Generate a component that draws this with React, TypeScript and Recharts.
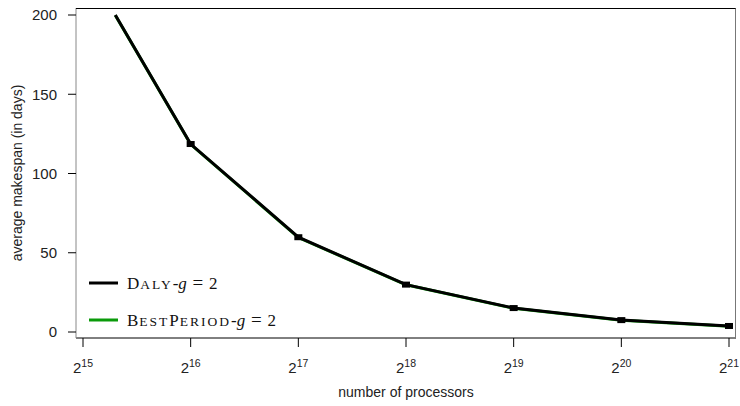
import { LineChart, Line, XAxis, YAxis } from 'recharts';

// x = log2(number of processors)
const processorsLog2 = [15.3, 16, 17, 18, 19, 20, 21];
const dalyMakespan = [200, 118.6, 59.8, 29.9, 15.1, 7.5, 3.8];
const bestPeriodMakespan = [199.8, 118.4, 59.6, 29.8, 15.0, 7.4, 3.7];

const xTicks = [15, 16, 17, 18, 19, 20, 21];
const yTicks = [0, 50, 100, 150, 200];

const data = processorsLog2.map((x, i) => ({
  x,
  daly: dalyMakespan[i],
  best: bestPeriodMakespan[i],
}));

const sans = '"Liberation Sans", Arial, sans-serif';
const serif = '"Liberation Serif", "DejaVu Serif", serif';

function PowerTick(props: any) {
  const { x, y, payload } = props;
  return (
    <text x={x} y={y + 22} textAnchor="middle" fontFamily={sans} fontSize={15} fill="#222">
      <tspan>2</tspan>
      <tspan dy={-6} fontSize={10.5}>{payload.value}</tspan>
    </text>
  );
}

function SquareDot(props: any) {
  const { cx, cy, index } = props;
  if (index === 0 || cx == null) return <g key={`d${index}`} />;
  return <rect key={`d${index}`} x={cx - 4} y={cy - 3} width={8} height={6} fill="#000" />;
}

function SmallCaps({ text }: { text: string }) {
  // upper-case letters full size, the rest as reduced capitals
  const parts = text.match(/[A-Z]+|[a-z]+/g) || [];
  return (
    <>
      {parts.map((p, i) =>
        /[A-Z]/.test(p) ? (
          <tspan key={i} letterSpacing={1}>{p}</tspan>
        ) : (
          <tspan key={i} fontSize={13.5} letterSpacing={2}>{p.toUpperCase()}</tspan>
        )
      )}
    </>
  );
}

const legendItems = [
  { name: 'Daly', color: '#000000' },
  { name: 'BestPeriod', color: '#0a9a0a' },
];

function LegendBox() {
  return (
    <svg width={240} height={70}>
      {legendItems.map((it, i) => (
        <g key={it.name} transform={`translate(0, ${i * 37})`}>
          <line x1={1} y1={15} x2={30} y2={15} stroke={it.color} strokeWidth={3} />
          <text x={39} y={21} fontFamily={serif} fontSize={17} fill="#111">
            <SmallCaps text={it.name} />
            <tspan>-</tspan>
            <tspan fontStyle="italic">g</tspan>
            <tspan>{'\u00a0'}</tspan>
            <tspan dx={1.5} fontSize={19}>=</tspan>
            <tspan dx={1.5}>{'\u00a02'}</tspan>
          </text>
        </g>
      ))}
    </svg>
  );
}

export default function App() {
  return (
    <div style={{ position: 'absolute', left: 0, top: 0, width: 740, height: 406, background: '#fff' }}>
      <LineChart width={740} height={406} data={data} margin={{ top: 8, right: 4, bottom: 0, left: 0 }}>
        <XAxis
          dataKey="x"
          type="number"
          domain={[15, 21]}
          ticks={xTicks}
          height={68}
          padding={{ left: 7, right: 7 }}
          tickSize={9}
          tickMargin={4}
          tick={<PowerTick />}
          stroke="#000"
          interval={0}
          label={{ value: 'number of processors', position: 'insideBottom', offset: 9, fontFamily: sans, fontSize: 14, fill: '#222' }}
        />
        <YAxis
          type="number"
          domain={[0, 200]}
          ticks={yTicks}
          width={76}
          padding={{ top: 7, bottom: 6 }}
          tickSize={8}
          tickMargin={11}
          tick={{ fontFamily: sans, fontSize: 15, fill: '#222' }}
          axisLine={{ stroke: '#888' }}
          tickLine={{ stroke: '#000' }}
          interval={0}
          label={{
            value: 'average makespan (in days)',
            angle: -90,
            position: 'insideLeft',
            offset: 17,
            style: { textAnchor: 'middle', fontFamily: sans, fontSize: 14, fill: '#222' },
          }}
        />
        <Line
          dataKey="best"
          stroke="#0a9a0a"
          strokeWidth={3}
          dot={false}
          isAnimationActive={false}
        />
        <Line
          dataKey="daly"
          stroke="#000"
          strokeWidth={3}
          dot={<SquareDot />}
          isAnimationActive={false}
        />
      </LineChart>
      <div style={{ position: 'absolute', left: 88, top: 268 }}>
        <LegendBox />
      </div>
      <div
        style={{
          position: 'absolute',
          left: 76,
          top: 8,
          width: 659,
          height: 330,
          borderTop: '1px solid #000',
          borderRight: '1px solid #777',
          pointerEvents: 'none',
        }}
      />
    </div>
  );
}
